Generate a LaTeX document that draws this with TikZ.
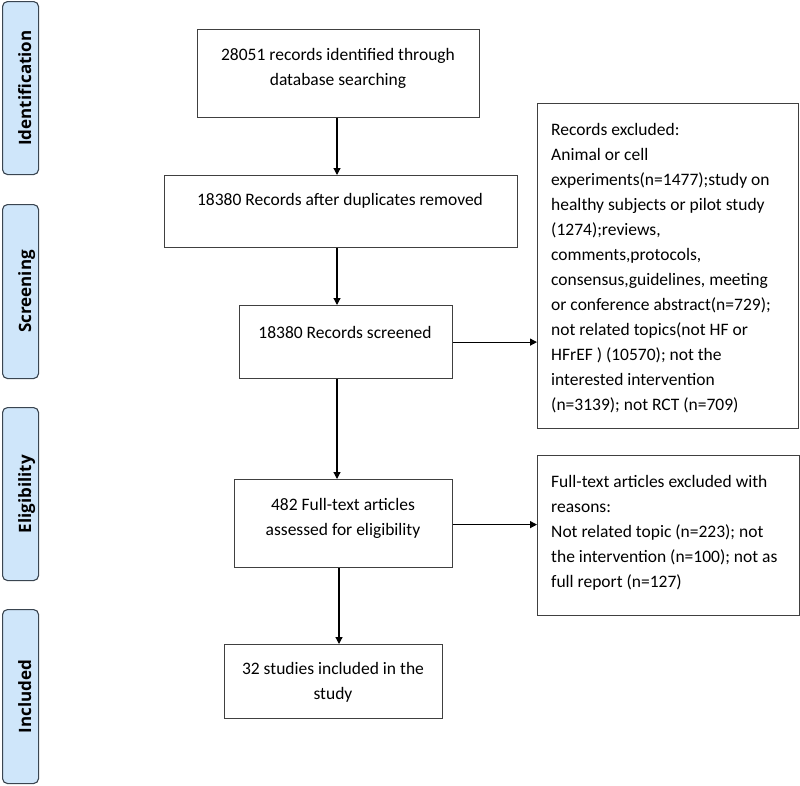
\documentclass[tikz,border=0pt]{standalone}
\usepackage{fontspec}
\setmainfont{Carlito}
\newfontfamily\sidefont{Open Sans}
\usetikzlibrary{arrows.meta}
\definecolor{boxgray}{HTML}{404040}
\definecolor{sidefill}{HTML}{CFE6FA}
\definecolor{sideline}{HTML}{3A4550}
\begin{document}
\begin{tikzpicture}[x=1pt,y=-1pt,
  box/.style={draw=boxgray, line width=1.2pt, inner sep=0pt, anchor=north west},
  txt/.style={inner sep=0pt, align=center, font=\fontsize{17.5}{25}\selectfont},
  ltxt/.style={inner sep=0pt, align=left, anchor=north west, font=\fontsize{17.5}{25}\selectfont},
  side/.style={draw=sideline, fill=sidefill, line width=1.1pt, rounded corners=5pt, anchor=north west, inner sep=0pt},
  sidetxt/.style={rotate=90, inner sep=0pt, text height=12.3pt, text depth=0pt, font=\sidefont\bfseries\fontsize{17}{20}\selectfont},
  arr/.style={-{Triangle[length=7pt,width=7pt]}, line width=1.2pt, black}]
\useasboundingbox (0,0) rectangle (800,785);
% side labels
\node[side, minimum width=36pt, minimum height=173pt] (s1) at (2,1) {};
\node[side, minimum width=36pt, minimum height=174pt] (s2) at (2,204) {};
\node[side, minimum width=36pt, minimum height=173pt] (s3) at (2,407) {};
\node[side, minimum width=36pt, minimum height=174pt] (s4) at (2,609) {};
\node[sidetxt] at ([xshift=4.5pt]s1.center) {Identification};
\node[sidetxt] at ([xshift=4.5pt]s2.center) {Screening};
\node[sidetxt] at ([xshift=4.5pt]s3.center) {Eligibility};
\node[sidetxt] at ([xshift=4.5pt]s4.center) {Included};
% main boxes
\node[box, minimum width=282pt, minimum height=88pt] (b1) at (197,29) {};
\node[box, minimum width=353pt, minimum height=72pt] (b2) at (164,175) {};
\node[box, minimum width=213pt, minimum height=73pt] (b3) at (239,305) {};
\node[box, minimum width=218pt, minimum height=88pt] (b4) at (234,479) {};
\node[box, minimum width=218pt, minimum height=74pt] (b5) at (224,644) {};
\node[box, minimum width=261pt, minimum height=325pt] (r1) at (537,103) {};
\node[box, minimum width=262pt, minimum height=160pt] (r2) at (537,455) {};
% texts
\node[txt] (t1) at (338,68) {28051 records identified through\\database searching};
\node[txt] (t2) at (340,201) {18380 Records after duplicates removed};
\node[txt] (t3) at (345,332) {18380 Records screened};
\node[txt] (t4) at (343,518) {482 Full-text articles\\assessed for eligibility};
\node[txt] (t5) at (333,682) {32 studies included in the\\study};
\node[ltxt] (tr1) at (551,118) {\strut Records excluded:\\
Animal or cell\\
experiments(n=1477);study on\\
healthy subjects or pilot study\\
(1274);reviews,\\
comments,protocols,\\
consensus,guidelines, meeting\\
or conference abstract(n=729);\\
not related topics(not HF or\\
HFrEF ) (10570); not the\\
interested intervention\\
(n=3139); not RCT (n=709)};
\node[ltxt] (tr2) at (551,470) {\strut Full-text articles excluded with\\
reasons:\\
Not related topic (n=223); not\\
the intervention (n=100); not as\\
full report (n=127)};
% connectors
\coordinate (cx) at (337,0);
\coordinate (cx2) at (339,0);
\draw[arr] (b1.south -| cx) -- (b2.north -| cx);
\draw[arr] (b2.south -| cx) -- (b3.north -| cx);
\draw[arr] (b3.south -| cx) -- (b4.north -| cx);
\draw[arr] (b4.south -| cx2) -- (b5.north -| cx2);
\draw[arr] (b3.east) -- (b3.east -| r1.west);
\draw[arr] ([yshift=-1pt]b4.east) -- ([yshift=-1pt]b4.east -| r2.west);
\end{tikzpicture}
\end{document}
